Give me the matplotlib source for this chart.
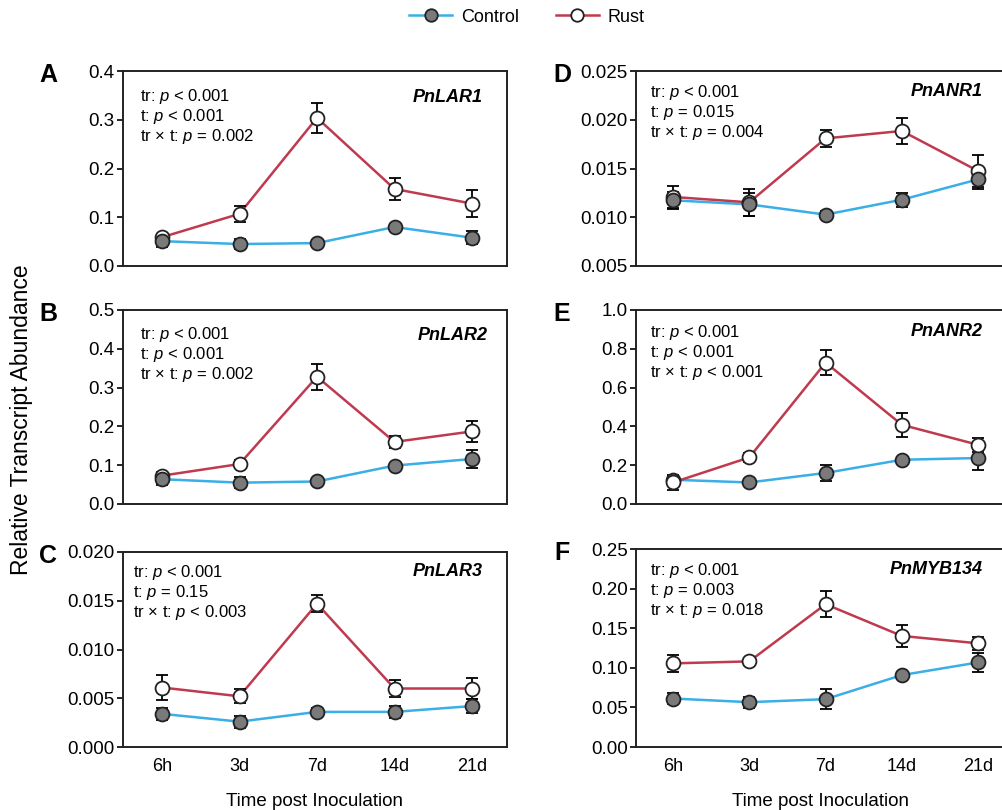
import numpy as np
import matplotlib
matplotlib.use('Agg')
import matplotlib.pyplot as plt
from matplotlib.lines import Line2D

plt.rcParams['font.family'] = ['Liberation Sans', 'DejaVu Sans']
plt.rcParams['mathtext.fontset'] = 'custom'
plt.rcParams['mathtext.rm'] = 'Liberation Sans'
plt.rcParams['mathtext.it'] = 'Liberation Sans:italic'

times = ['6h', '3d', '7d', '14d', '21d']

# panel A - PnLAR1
lar1_ctrl = [0.051, 0.045, 0.047, 0.080, 0.058]
lar1_ctrl_err = [0.012, 0.010, 0.005, 0.004, 0.013]
lar1_rust = [0.059, 0.107, 0.304, 0.158, 0.128]
lar1_rust_err = [0.006, 0.016, 0.031, 0.023, 0.027]

# panel B - PnLAR2
lar2_ctrl = [0.064, 0.055, 0.058, 0.099, 0.116]
lar2_ctrl_err = [0.015, 0.014, 0.005, 0.005, 0.024]
lar2_rust = [0.073, 0.103, 0.328, 0.160, 0.187]
lar2_rust_err = [0.010, 0.010, 0.034, 0.016, 0.026]

# panel C - PnLAR3
lar3_ctrl = [0.0034, 0.0026, 0.0036, 0.0036, 0.0042]
lar3_ctrl_err = [0.0006, 0.0006, 0.0004, 0.0006, 0.0007]
lar3_rust = [0.0061, 0.0052, 0.0147, 0.0060, 0.0060]
lar3_rust_err = [0.0013, 0.0007, 0.0009, 0.0009, 0.0011]

# panel D - PnANR1
anr1_ctrl = [0.01174, 0.01132, 0.01027, 0.0118, 0.01389]
anr1_ctrl_err = [0.0009, 0.0012, 0.0004, 0.0007, 0.0010]
anr1_rust = [0.01208, 0.01153, 0.01809, 0.01885, 0.01474]
anr1_rust_err = [0.0011, 0.0014, 0.0009, 0.0013, 0.0016]

# panel E - PnANR2
anr2_ctrl = [0.125, 0.111, 0.160, 0.228, 0.237]
anr2_ctrl_err = [0.02, 0.01, 0.04, 0.01, 0.06]
anr2_rust = [0.111, 0.240, 0.729, 0.408, 0.305]
anr2_rust_err = [0.04, 0.025, 0.065, 0.063, 0.035]

# panel F - PnMYB134
myb_ctrl = [0.0612, 0.0566, 0.0604, 0.0908, 0.1068]
myb_ctrl_err = [0.007, 0.007, 0.0125, 0.003, 0.0125]
myb_rust = [0.1056, 0.1081, 0.1803, 0.1402, 0.1309]
myb_rust_err = [0.011, 0.002, 0.0167, 0.014, 0.008]

panels = [
    ('A', 'PnLAR1', lar1_ctrl, lar1_ctrl_err, lar1_rust, lar1_rust_err,
     [0, 0.1, 0.2, 0.3, 0.4], '%.1f',
     ['tr: $p$ < 0.001', 't: $p$ < 0.001', 'tr × t: $p$ = 0.002']),
    ('B', 'PnLAR2', lar2_ctrl, lar2_ctrl_err, lar2_rust, lar2_rust_err,
     [0, 0.1, 0.2, 0.3, 0.4, 0.5], '%.1f',
     ['tr: $p$ < 0.001', 't: $p$ < 0.001', 'tr × t: $p$ = 0.002']),
    ('C', 'PnLAR3', lar3_ctrl, lar3_ctrl_err, lar3_rust, lar3_rust_err,
     [0, 0.005, 0.010, 0.015, 0.020], '%.3f',
     ['tr: $p$ < 0.001', 't: $p$ = 0.15', 'tr × t: $p$ < 0.003']),
    ('D', 'PnANR1', anr1_ctrl, anr1_ctrl_err, anr1_rust, anr1_rust_err,
     [0.005, 0.010, 0.015, 0.020, 0.025], '%.3f',
     ['tr: $p$ < 0.001', 't: $p$ = 0.015', 'tr × t: $p$ = 0.004']),
    ('E', 'PnANR2', anr2_ctrl, anr2_ctrl_err, anr2_rust, anr2_rust_err,
     [0, 0.2, 0.4, 0.6, 0.8, 1.0], '%.1f',
     ['tr: $p$ < 0.001', 't: $p$ < 0.001', 'tr × t: $p$ < 0.001']),
    ('F', 'PnMYB134', myb_ctrl, myb_ctrl_err, myb_rust, myb_rust_err,
     [0, 0.05, 0.10, 0.15, 0.20, 0.25], '%.2f',
     ['tr: $p$ < 0.001', 't: $p$ = 0.003', 'tr × t: $p$ = 0.018']),
]

W, H = 1002, 810
# axes boxes in pixels: left, top, right, bottom
boxes = [(123, 71, 507, 266), (123, 310, 507, 504), (123, 552, 507, 747),
         (636, 71, 1004, 266), (636, 310, 1004, 504), (636, 549, 1004, 747)]
# text offset from top of axes (px) and stats left offset
txt_off = [(26, 17), (25, 17), (20, 10), (21, 14), (22, 14), (21, 14)]
gene_right = [483, 488, 483, 983, 983, 983]
rust_on_top = [False, False, False, False, True, False]

ctrl_col = '#3aaee6'
rust_col = '#bf3a4e'

fig = plt.figure(figsize=(W / 100, H / 100), dpi=100)

x = np.arange(len(times))
for i, (letter, gene, c, ce, r, re_, yt, fmt, stats) in enumerate(panels):
    l, t, rr, b = boxes[i]
    ax = fig.add_axes([l / W, 1 - b / H, (rr - l) / W, (b - t) / H])
    ax.plot(x, c, color=ctrl_col, lw=1.8, zorder=2)
    ax.plot(x, r, color=rust_col, lw=1.8, zorder=2)
    ax.errorbar(x, c, yerr=ce, fmt='none', ecolor='black', elinewidth=1.3,
                capsize=4.5, capthick=1.3, zorder=3)
    ax.errorbar(x, r, yerr=re_, fmt='none', ecolor='black', elinewidth=1.3,
                capsize=4.5, capthick=1.3, zorder=3)
    zc, zr = (4, 5) if rust_on_top[i] else (5, 4)
    ax.plot(x, c, 'o', ms=10, mfc='#7a7a7a', mec='#222222', mew=1.3, zorder=zc)
    ax.plot(x, r, 'o', ms=10, mfc='white', mec='#222222', mew=1.3, zorder=zr)

    ax.set_ylim(yt[0], yt[-1])
    ax.set_yticks(yt)
    ax.set_yticklabels([fmt % v for v in yt])
    pw = rr - l
    step = 77.5 if i < 3 else 76.3
    first = 39 if i < 3 else 37
    ax.set_xlim(-first / step, (pw - first) / step)
    ax.set_xticks(x)
    if letter in ('C', 'F'):
        ax.set_xticklabels(times)
        ax.set_xlabel('Time post Inoculation', fontsize=13.5, labelpad=13)
    else:
        ax.set_xticklabels([])
    ax.tick_params(axis='x', length=0, pad=8, labelsize=13)
    ax.tick_params(axis='y', length=4, width=1.2, pad=2, labelsize=13.5,
                   direction='out')
    for s in ax.spines.values():
        s.set_linewidth(1.4)
        s.set_color('#222222')

    ph = b - t
    off, xo = txt_off[i]
    for k, s in enumerate(stats):
        ax.text(xo / pw, 1 - (off + 20 * k) / ph, s, transform=ax.transAxes,
                fontsize=12, ha='left', va='center')
    ax.text((gene_right[i] - l) / pw, 1 - off / ph, gene, transform=ax.transAxes,
            fontsize=13, ha='right', va='center', fontweight='bold',
            fontstyle='italic')

    lx = 48 if i < 3 else 562
    ly = t + 4
    fig.text(lx / W, 1 - ly / H, letter, fontsize=18, fontweight='bold',
             ha='center', va='center')

fig.text(22 / W, 1 - 420 / H, 'Relative Transcript Abundance', fontsize=16.5,
         rotation=90, ha='center', va='center')

handles = [
    Line2D([], [], color=ctrl_col, lw=1.8, marker='o', ms=9, mfc='#7a7a7a',
           mec='#222222', mew=1.3),
    Line2D([], [], color=rust_col, lw=1.8, marker='o', ms=9, mfc='white',
           mec='#222222', mew=1.3),
]
fig.legend(handles, ['Control', 'Rust'], loc='center', ncol=2,
           bbox_to_anchor=(527 / W, 1 - 17 / H), frameon=False, fontsize=13,
           handlelength=2.4, columnspacing=2.0, handletextpad=0.5)

plt.savefig('out.png', dpi=100)
